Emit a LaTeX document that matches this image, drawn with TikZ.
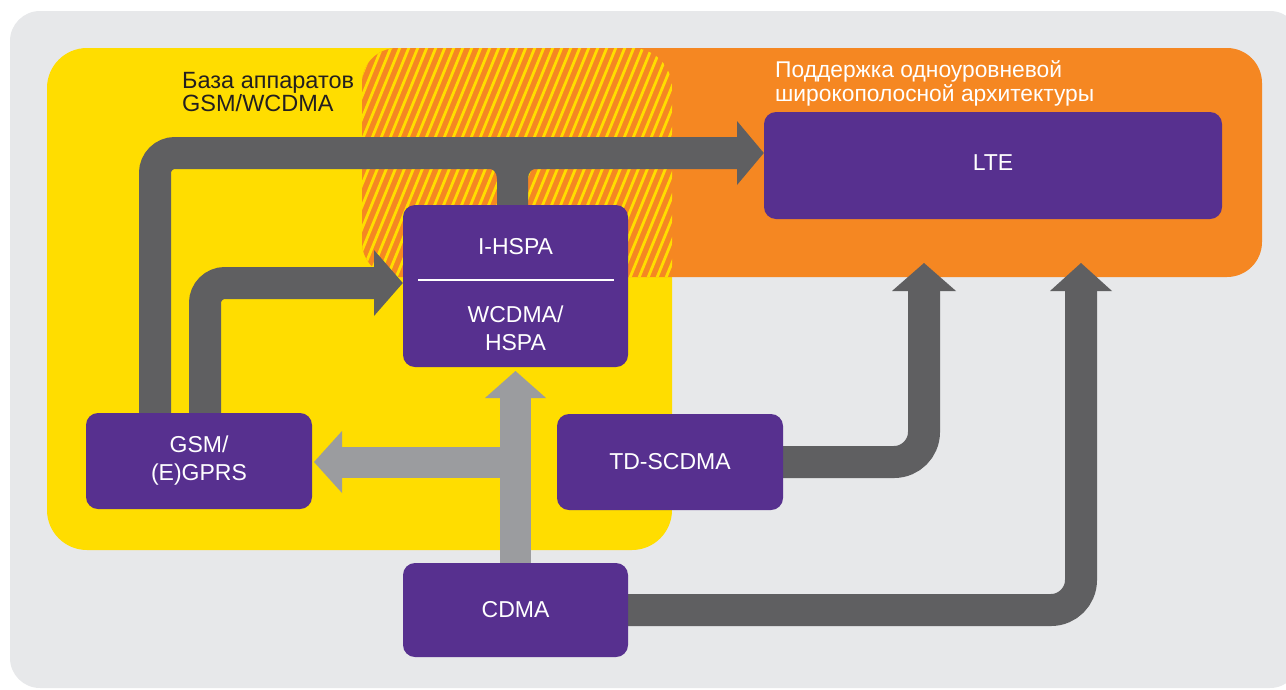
\documentclass[tikz,border=0pt]{standalone}
\usepackage{fontspec}
\setmainfont{Liberation Sans}
\usetikzlibrary{calc}
\definecolor{bggrey}{HTML}{E7E8EA}
\definecolor{yellowc}{HTML}{FFDD00}
\definecolor{orangec}{HTML}{F58722}
\definecolor{boxpurple}{HTML}{57308F}
\definecolor{dgrey}{HTML}{5F5F61}
\definecolor{lgrey}{HTML}{9B9C9F}
\definecolor{labeltext}{HTML}{231F20}
\pgfdeclarelayer{back}
\pgfdeclarelayer{mid}
\pgfsetlayers{back,mid,main}
\begin{document}
\begin{tikzpicture}[x=1pt,y=-1pt,
  box/.style={fill=boxpurple, rounded corners=12pt, inner sep=0pt},
  boxtext/.style={text=white, font=\fontsize{23}{28}\selectfont, align=center, inner sep=0pt},
  zonelabel/.style={font=\fontsize{23.5}{23}\selectfont, align=left, inner sep=0pt, anchor=west},
  dshaft/.style={draw=dgrey, line width=32pt},
  lshaft/.style={draw=lgrey, line width=31pt},
  dhead/.style={fill=dgrey},
  lhead/.style={fill=lgrey}]
\useasboundingbox (0,0) rectangle (1286,689);

% nodes
\node[box, minimum width=458pt, minimum height=107pt] (lte) at (993,165.5) {};
\node[boxtext] (ltet) at (993,163) {LTE};
\node[box, minimum width=225pt, minimum height=162pt] (ihspa) at (515.5,286) {};
\node[boxtext] (ihspat) at (515.5,247) {I-HSPA};
\node[boxtext] (wcdmat) at (515.5,328) {WCDMA/\\HSPA};
\draw[white, line width=2pt] (418,280) -- (614,280);
\node[box, minimum width=226pt, minimum height=96pt] (gsm) at (199,461) {};
\node[boxtext] (gsmt) at (gsm.center) {GSM/\\(E)GPRS};
\node[box, minimum width=226pt, minimum height=96pt] (td) at (670,462) {};
\node[boxtext] (tdt) at (td.center) {TD-SCDMA};
\node[box, minimum width=225pt, minimum height=94pt] (cdma) at (515.5,610) {};
\node[boxtext] (cdmat) at (cdma.center) {CDMA};

\begin{pgfonlayer}{back}
\fill[bggrey, rounded corners=30pt] (10,11) rectangle (1300,688);
\fill[yellowc, rounded corners=40pt] (47,48) rectangle (672,550);
\fill[orangec, rounded corners=35pt] (362,48) rectangle (1262,277);
\begin{scope}
\clip[rounded corners=40pt] (47,48) rectangle (672,550);
\clip[rounded corners=35pt] (362,48) rectangle (1262,277);
\foreach \x in {240,249,...,690} \draw[yellowc, line width=2.8pt] (\x,285) -- ++(100,-245);
\end{scope}
\node[zonelabel, text=labeltext] (zl1) at (182,92) {База аппаратов\\GSM/WCDMA};
\node[zonelabel, text=white, font=\fontsize{22.8}{24}\selectfont] (zl2) at (775,83) {Поддержка одноуровневой\\широкополосной архитектуры};
\end{pgfonlayer}

\begin{pgfonlayer}{mid}
% GSM -> LTE
\coordinate (a1b) at (155,153);
\coordinate (a1e) at (738,153);
\draw[dshaft, rounded corners=20pt] (gsm.center -| a1b) -- (a1b) -- (a1e);
\fill[dhead] (737,121) -- (lte.west |- a1e) -- (737,185) -- cycle;
% I-HSPA -> LTE stub
\fill[dgrey] (486,168) .. controls (493,168) and (497,172) .. (497,179) -- (497,230) -- (528,230) -- (528,179) .. controls (528,172) and (532,168) .. (539,168) -- cycle;
% GSM -> I-HSPA
\coordinate (a2b) at (205,283);
\coordinate (a2e) at (375,283);
\draw[dshaft, rounded corners=20pt] (gsm.center -| a2b) -- (a2b) -- (a2e);
\fill[dhead] (374,250) -- (ihspa.west |- a2e) -- (374,316) -- cycle;
% TD-SCDMA -> LTE
\coordinate (a3b) at (924,462);
\coordinate (a3e) at (924,290);
\draw[dshaft, rounded corners=30pt] (td.center) -- (a3b) -- (a3e);
\fill[dhead] (892,291) -- (924,263) -- (956,291) -- cycle;
% CDMA -> LTE
\coordinate (a4b) at (1081,610);
\coordinate (a4e) at (1081,290);
\draw[dshaft, rounded corners=30pt] (cdma.center) -- (a4b) -- (a4e);
\fill[dhead] (1050,291) -- (1081,263) -- (1112,291) -- cycle;
% CDMA -> I-HSPA
\coordinate (a5e) at (515.5,397);
\draw[lshaft] (cdma.center) -- (a5e);
\fill[lhead] (485,398) -- (515.5,371) -- (546,398) -- cycle;
% branch -> GSM
\coordinate (a6b) at (515.5,462);
\coordinate (a6e) at (341,462);
\draw[lshaft] (a6b) -- (a6e);
\fill[lhead] (342,431) -- (314,462) -- (342,493) -- cycle;
\end{pgfonlayer}
\end{tikzpicture}
\end{document}
